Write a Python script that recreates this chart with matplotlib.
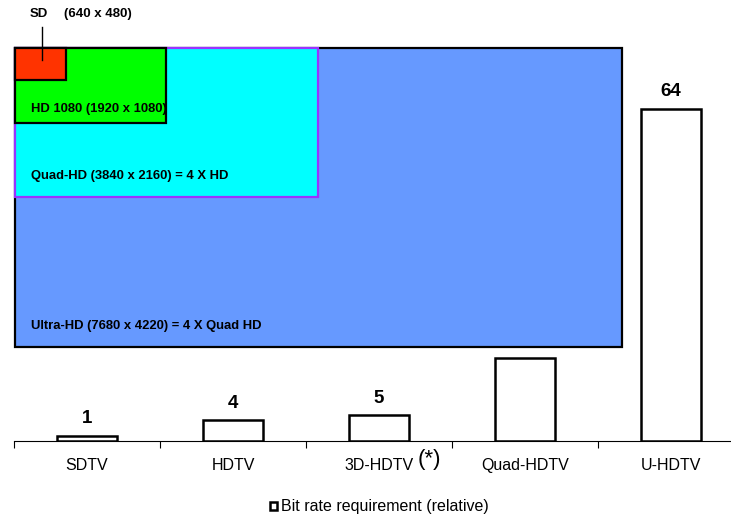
import matplotlib.pyplot as plt
import matplotlib.patches as patches

categories = ['SDTV', 'HDTV', '3D-HDTV', 'Quad-HDTV', 'U-HDTV']
bitrate = [1, 4, 5, 16, 64]
value_labels = ['1', '4', '5', '16', '64']

# resolution boxes drawn on top, largest first
formats = ['Ultra-HD (7680 x 4220) = 4 X Quad HD',
           'Quad-HD (3840 x 2160) = 4 X HD',
           'HD 1080 (1920 x 1080)',
           '']
W, H = 731, 515

plt.rcParams['font.family'] = ['Liberation Sans', 'DejaVu Sans']

fig = plt.figure(figsize=(W / 100, H / 100), dpi=100)


def px(x0, y0, x1, y1):
    # pixel box (top-left origin) -> figure fraction rect
    return (x0 / W, 1 - y1 / H, (x1 - x0) / W, (y1 - y0) / H)


ax = fig.add_axes(px(14, 26, 744, 441))
x = range(len(categories))
bars = ax.bar(x, bitrate, width=0.41, color='white', edgecolor='black',
              linewidth=1.8, zorder=2)
for b, lab in zip(bars, value_labels):
    ax.annotate(lab, (b.get_x() + b.get_width() / 2, b.get_height()),
                xytext=(0, 9), textcoords='offset points', ha='center',
                va='baseline', fontsize=13.5, fontweight='bold', zorder=1)
ax.set_xlim(-0.5, 4.5)
ax.set_ylim(0, 80)
ax.set_xticks([i - 0.5 for i in range(6)])
ax.set_xticklabels([])
ax.set_xticks(list(x), minor=True)
ax.set_xticklabels(categories, minor=True, fontsize=11.5)
ax.tick_params(axis='x', which='minor', length=0, pad=12)
ax.tick_params(axis='x', which='major', length=5, width=0.8, direction='out')
ax.set_yticks([])
for s in ['left', 'right', 'top']:
    ax.spines[s].set_visible(False)
ax.spines['bottom'].set_linewidth(0.8)
fig.text(418 / W, 1 - 459 / H, '(*)', fontsize=16, va='center')

# overlaid resolution boxes
boxes = [((15, 48, 622, 347), '#6699FF', 'black'),
         ((15, 48, 318, 197), '#00FFFF', '#9933FF'),
         ((15, 48, 166, 123), '#00FF00', 'black'),
         ((15, 48, 66, 80), '#FF3300', 'black')]
label_y = [326, 176, 109, None]
for (coords, face, edge), lab, ly in zip(boxes, formats, label_y):
    x0, y0, w, h = px(*coords)
    fig.add_artist(patches.Rectangle((x0, y0), w, h, transform=fig.transFigure,
                                     facecolor=face, edgecolor=edge, linewidth=1.6,
                                     zorder=5))
    if lab:
        fig.text(31 / W, 1 - ly / H, lab, fontsize=9.4, fontweight='bold',
                 va='center', zorder=6)

fig.text(30 / W, 1 - 14 / H, 'SD', fontsize=9.5, fontweight='bold', va='center')
fig.text(64 / W, 1 - 14 / H, '(640 x 480)', fontsize=9.5, fontweight='bold', va='center')
fig.add_artist(plt.Line2D([42 / W, 42 / W], [1 - 27 / H, 1 - 60 / H],
                          transform=fig.transFigure, color='black', lw=1, zorder=7))

# legend
fig.add_artist(patches.Rectangle((270 / W, 1 - 510 / H), 7 / W, 8 / H,
                                 transform=fig.transFigure, facecolor='white',
                                 edgecolor='black', linewidth=1.8))
fig.text(281 / W, 1 - 506 / H, 'Bit rate requirement (relative)', fontsize=11.5,
         va='center')

fig.savefig('out.png', dpi=100)
